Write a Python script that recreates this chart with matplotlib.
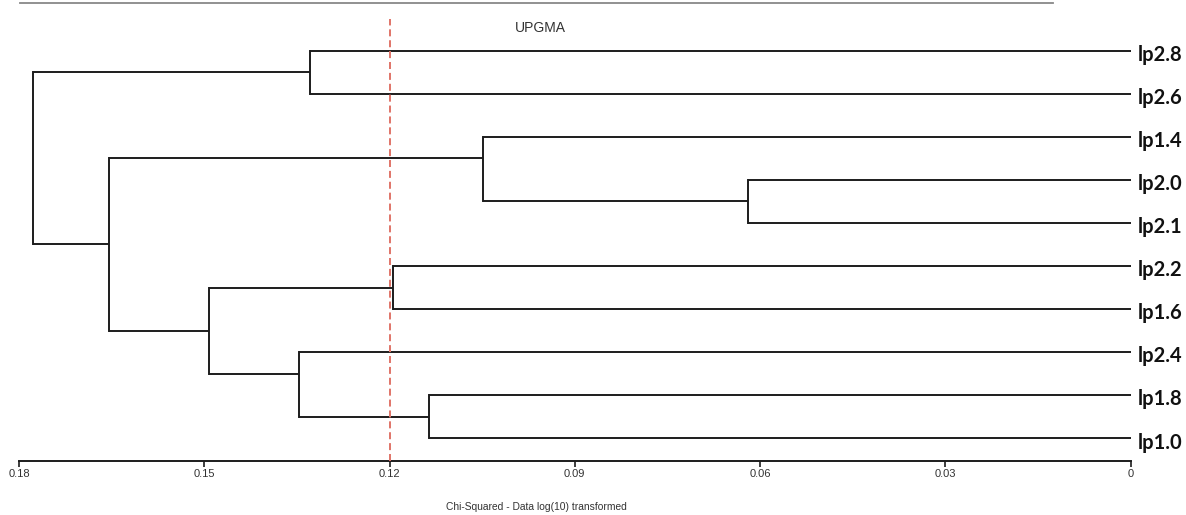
import matplotlib
matplotlib.use("Agg")
import matplotlib.pyplot as plt
from matplotlib.lines import Line2D

# ---------------- data ----------------
leaves = ["lp2.8", "lp2.6", "lp1.4", "lp2.0", "lp2.1",
          "lp2.2", "lp1.6", "lp2.4", "lp1.8", "lp1.0"]
# merges: (child_a, child_b, height); ints refer to earlier merges
merge_a = ["lp2.0", "lp1.8", "lp2.2", "lp2.8", "lp1.4", "lp2.4", 2, 4, 3]
merge_b = ["lp2.1", "lp1.0", "lp1.6", "lp2.6", 0, 1, 5, 6, 7]
merge_h = [0.0619, 0.1136, 0.1194, 0.1328, 0.1049, 0.1347, 0.1492, 0.1654, 0.1777]
cut_height = 0.12
xticks = [0.18, 0.15, 0.12, 0.09, 0.06, 0.03, 0]
xtick_labels = ["0.18", "0.15", "0.12", "0.09", "0.06", "0.03", "0"]
title = "UPGMA"
xlabel = "Chi-Squared - Data log(10) transformed"

# ---------------- figure ----------------
W, H = 1186, 515
fig = plt.figure(figsize=(W / 100, H / 100), dpi=100)
fig.patch.set_facecolor("white")

ax_left, ax_right = 19, 1130.6
ax_bottom, ax_top = 461, 15
leaf_y0, leaf_dy = 50.5, 43.1
ax = fig.add_axes([ax_left / W, 1 - ax_bottom / H,
                   (ax_right - ax_left) / W, (ax_bottom - ax_top) / H])
ax.set_xlim(0.18, 0)
ax.set_ylim((ax_bottom - leaf_y0) / leaf_dy, (ax_top - leaf_y0) / leaf_dy)

lc = "#1c1c1c"
lw = 1.4

leaf_pos = {name: i for i, name in enumerate(leaves)}
node_y = []      # y where parent connects
node_first = []  # y of first (top) leaf of subtree
node_h = []


def info(c):
    if isinstance(c, str):
        return leaf_pos[c], leaf_pos[c], 0.0, True
    return node_y[c], node_first[c], node_h[c], False


for a, b, h in zip(merge_a, merge_b, merge_h):
    ya, fa, ha, la = info(a)
    yb, fb, hb, lb = info(b)
    # anchor rule of the source program: a leaf paired with a subtree
    # meets it at the subtree's top leaf
    anc_a = fa if (lb and not la) else ya
    anc_b = fb if (la and not lb) else yb
    y = (anc_a + anc_b) / 2
    # vertical connector
    ax.plot([h, h], [ya, yb], color=lc, lw=lw, solid_capstyle="projecting")
    # horizontals to children
    ax.plot([h, ha], [ya, ya], color=lc, lw=lw, solid_capstyle="butt")
    ax.plot([h, hb], [yb, yb], color=lc, lw=lw, solid_capstyle="butt")
    node_y.append(y)
    node_first.append(min(fa, fb))
    node_h.append(h)

# cut line
ax.plot([cut_height, cut_height], [ax.get_ylim()[0], (19 - leaf_y0) / leaf_dy],
        color="#e07468", lw=1.4, dashes=(3.6, 2.0), zorder=5)

# leaf labels
for name, i in leaf_pos.items():
    ax.annotate(name, xy=(0, i), xytext=(5, -3), textcoords="offset points",
                ha="left", va="center", fontsize=14.5, fontweight="bold",
                family="Lato", color="#111111", annotation_clip=False)

# axes styling
for s in ["top", "right", "left"]:
    ax.spines[s].set_visible(False)
ax.spines["bottom"].set_color(lc)
ax.spines["bottom"].set_linewidth(1.4)
ax.set_yticks([])
ax.set_xticks(xticks)
ax.set_xticklabels(xtick_labels, fontsize=8, color="#333333",
                   family="Liberation Sans")
ax.tick_params(axis="x", direction="out", length=4, width=1.2, color=lc, pad=2)

# top grey rule
fig.add_artist(Line2D([20 / W, 1053 / W], [1 - 2.7 / H, 1 - 2.7 / H],
                      color="#888888", lw=1.3))
fig.text(540 / W, 1 - 28 / H, title, ha="center", va="center", fontsize=10,
         family="Liberation Sans", color="#333333")
fig.text(536 / W, 1 - 507 / H, xlabel, ha="center", va="center", fontsize=7.4,
         family="Liberation Sans", color="#333333")

fig.savefig("out.png", dpi=100, facecolor="white")
